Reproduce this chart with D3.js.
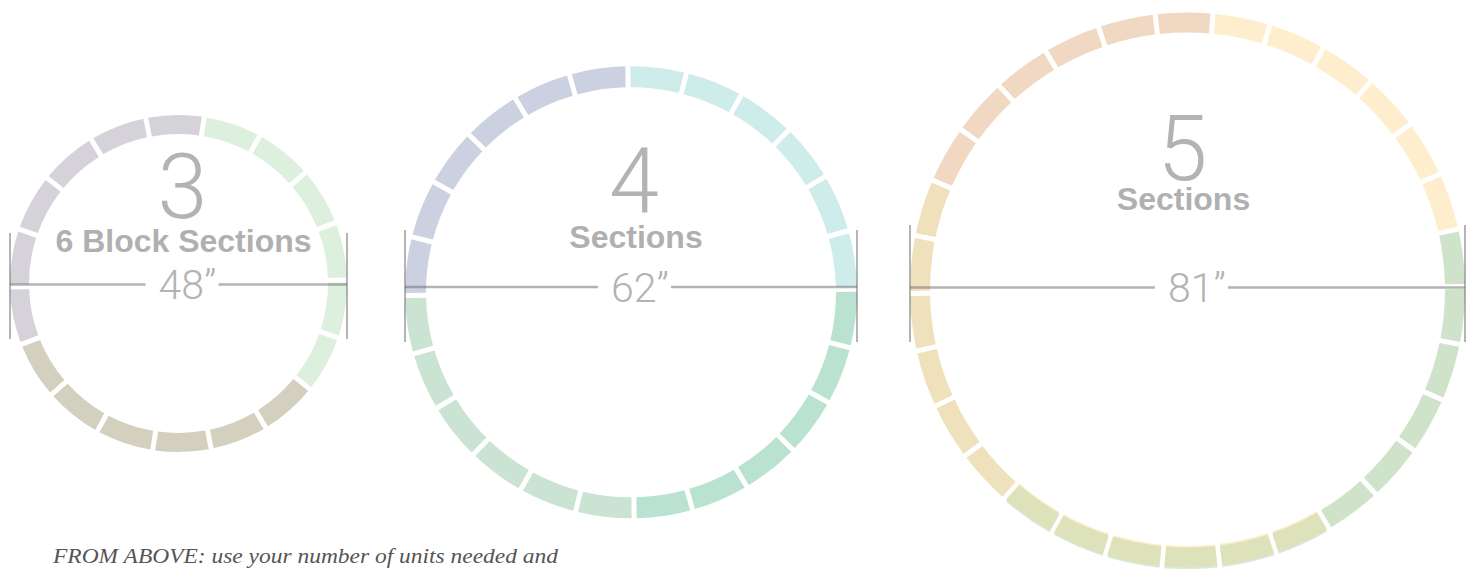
<!DOCTYPE html>
<html><head><meta charset="utf-8">
<script src="https://cdn.jsdelivr.net/npm/d3@7"></script>
<style>html,body{margin:0;padding:0;background:#fff;overflow:hidden}</style>
</head><body><svg id="c" width="1474" height="569"></svg>
<script>
// ---- data ----
const diameters = [48, 62, 81];            // inches
const sectionCounts = [3, 4, 5];
const blocksPerSection = [6, 6, 6];
const sectionLabels = ["6 Block Sections", "Sections", "Sections"];
const sectionColors = [
  ["#d6d2d9", "#ddefdd", "#d3d0bf"],
  ["#cbd1e1", "#ceecea", "#b9e2d1", "#cbe3d3"],
  ["#f1d8c2", "#feeecd", "#cfe3ca", "#dde2bb", "#eee1bb"]
];
const noteText = "FROM ABOVE: use your number of units needed and";

// ---- layout (positions / styles) ----
const layout = [
  {cx:178.5, cy:283.5, rOut:168.5, thick:19, start:-110, rot:-1.2, digitX:182.5, digitY:218, labelX:183.5, labelY:252, lineY:284.5, numX:187.5, tickTop:233, tickBot:339},
  {cx:631,   cy:292.3, rOut:226,   thick:21, start:-90,  rot:-0.8, digitX:634,   digitY:212, labelX:636,   labelY:247.5, lineY:287, numX:640, tickTop:230, tickBot:342},
  {cx:1187.5,cy:290,   rOut:277.5, thick:20, start:-66,  rot:-0.7, digitX:1182.5,digitY:180, labelX:1183.5,labelY:210, lineY:287.5, numX:1197, tickTop:225, tickBot:342}
];
const GAP = 5;
const textGrey = "#b3b3b3";
const lightFont = "Roboto, 'Liberation Sans', Arial, sans-serif";
const sansFont = "'Liberation Sans', Arial, Helvetica, sans-serif";

const svg = d3.select("#c");
const rad = d => d * Math.PI / 180;

// scale: diameter -> outer radius in px
const radiusScale = d3.scaleOrdinal().domain(diameters).range(layout.map(l => l.rOut));

diameters.forEach((dia, i) => {
  const L = layout[i];
  const rOut = radiusScale(dia);
  const rIn = rOut - L.thick;
  const rMid = (rOut + rIn) / 2;
  const n = sectionCounts[i] * blocksPerSection[i];
  const blocks = d3.range(n).map(k => ({section: Math.floor(k / blocksPerSection[i])}));
  const s0 = rad(L.start + L.rot);
  const pie = d3.pie().value(1).sort(null).startAngle(s0).endAngle(s0 + 2 * Math.PI);
  const arc = d3.arc().innerRadius(rIn).outerRadius(rOut).padRadius(rMid).padAngle(GAP / rMid);
  const color = d3.scaleOrdinal().domain(d3.range(sectionCounts[i])).range(sectionColors[i]);
  const g = svg.append("g").attr("transform", `translate(${L.cx},${L.cy})`);
  const arcs = pie(blocks);

  // ring 3 bottom section: overlapping yellow/green layers (misregistration look)
  if (i === 2) {
    const mixed = arcs.filter(a => a.data.section === 3);
    g.append("g").attr("transform", "translate(0,-1.6)").selectAll("path").data(mixed).join("path")
      .attr("d", arc).attr("fill", sectionColors[2][1]);
    g.append("g").attr("transform", "translate(0,1.6)").selectAll("path").data(mixed).join("path")
      .attr("d", arc).attr("fill", "#d6ebdc");
  }
  g.append("g").selectAll("path").data(arcs).join("path")
    .attr("d", arc).attr("fill", d => color(d.data.section));

  // dimension line
  const lineG = svg.append("g").attr("stroke", "#6a6a6a").attr("stroke-opacity", 0.5).attr("fill", "none");
  const x0 = L.cx - rOut, x1 = L.cx + rOut;
  const gapL = L.numX - 42, gapR = L.numX + 31;
  lineG.append("line").attr("x1", x0).attr("x2", gapL).attr("y1", L.lineY).attr("y2", L.lineY).attr("stroke-width", 2.4);
  lineG.append("line").attr("x1", gapR).attr("x2", x1).attr("y1", L.lineY).attr("y2", L.lineY).attr("stroke-width", 2.4);
  lineG.append("line").attr("x1", x0).attr("x2", x0).attr("y1", L.tickTop).attr("y2", L.tickBot).attr("stroke-width", 2);
  lineG.append("line").attr("x1", x1).attr("x2", x1).attr("y1", L.tickTop).attr("y2", L.tickBot).attr("stroke-width", 2);

  // texts
  svg.append("text").attr("x", L.digitX).attr("y", L.digitY).attr("text-anchor", "middle")
    .attr("font-family", lightFont).attr("font-weight", 300).attr("font-size", 90).attr("fill", textGrey)
    .text(sectionCounts[i]);
  svg.append("text").attr("x", L.labelX).attr("y", L.labelY).attr("text-anchor", "middle")
    .attr("font-family", sansFont).attr("font-weight", 700).attr("font-size", 32).attr("fill", "#b0b0b0")
    .text(sectionLabels[i]);
  svg.append("text").attr("x", L.numX).attr("y", L.lineY + 14.5).attr("text-anchor", "middle")
    .attr("font-family", lightFont).attr("font-weight", 300).attr("font-size", 41).attr("fill", textGrey)
    .text(dia + "\u201D");
});

svg.append("text").attr("x", 53).attr("y", 563)
  .attr("font-family", "'Liberation Serif', 'DejaVu Serif', serif").attr("font-style", "italic")
  .attr("font-size", 22).attr("fill", "#555").attr("textLength", 505).attr("lengthAdjust", "spacingAndGlyphs")
  .text(noteText);
</script>
</body></html>
